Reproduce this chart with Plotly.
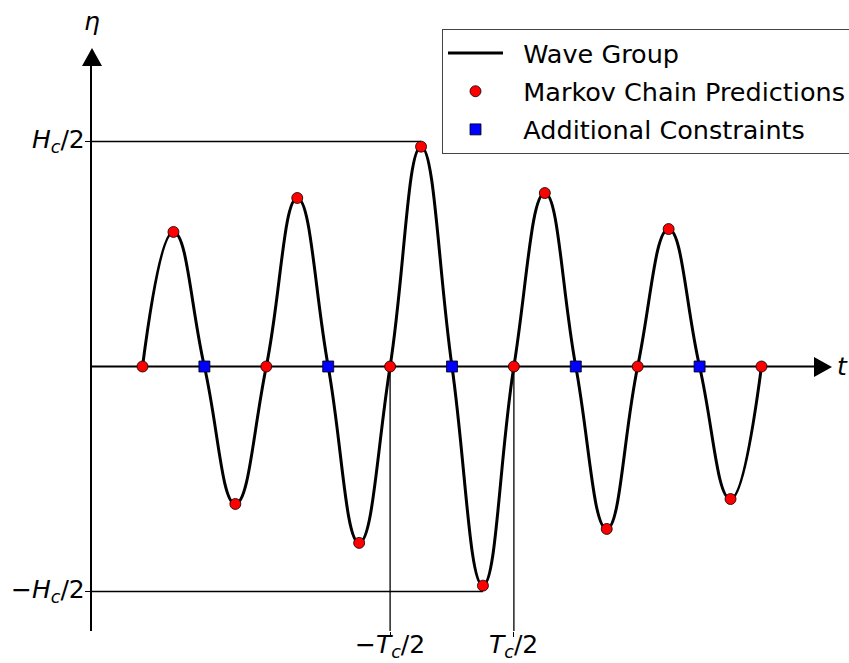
import numpy as np
import plotly.graph_objects as go

# Markov chain predictions: zero up-crossings and crests/troughs (t in units of Tc, eta in units of Hc/2)
t_markov = [-2.5, -2.25, -1.75, -1.5, -1.25, -0.75, -0.5, -0.25, 0.25, 0.5,
            0.75, 1.25, 1.5, 1.75, 2.25, 2.5]
eta_markov = [0.0, 0.598, -0.611, 0.0, 0.749, -0.784, 0.0, 0.977, -0.974, 0.0,
              0.771, -0.722, 0.0, 0.611, -0.589, 0.0]

# Additional constraints: zero down-crossings
t_constraint = [-2.0, -1.0, 0.0, 1.0, 2.0]
eta_constraint = [0.0, 0.0, 0.0, 0.0, 0.0]

# Reference levels and tick labels
half_height = 1.0           # Hc/2
half_period = 0.5           # Tc/2
y_tickvals = [-half_height, half_height]
y_ticktext = ["\u2212<i>H</i><sub><i>c</i></sub>/2", "<i>H</i><sub><i>c</i></sub>/2"]
x_tickvals = [-half_period, half_period]
x_ticktext = ["\u2212<i>T</i><sub><i>c</i></sub>/2", "<i>T</i><sub><i>c</i></sub>/2"]

# Wave group curve passes through every point, in time order
t_all = np.array(t_markov + t_constraint)
eta_all = np.array(eta_markov + eta_constraint)
order = np.argsort(t_all)
t_curve = t_all[order]
eta_curve = eta_all[order]

# Crest / trough used for the Hc/2 guide lines
i_crest = int(np.argmax(eta_markov))
i_trough = int(np.argmin(eta_markov))

W, H = 849, 663
ML, MR, MT, MB = 92, 0, 60, 32
PW, PH = W - ML - MR, H - MT - MB
x_range = [-2.908, 3.207]
y_range = [-1.1756, 1.3622]

FONT = "DejaVu Sans"
PAD = "\u2002\u200a"  # gap between legend symbol and label


def px_x(p):
    return (p - ML) / PW


def px_y(p):
    return (H - MB - p) / PH


fig = go.Figure()

fig.add_trace(go.Scatter(
    x=t_curve, y=eta_curve, mode="lines", name=PAD + "Wave Group", legendgroup="a",
    line=dict(color="black", width=3, shape="spline", smoothing=1.3),
))
fig.add_trace(go.Scatter(
    x=t_markov, y=eta_markov, mode="markers", name=PAD + "Markov Chain Predictions",
    legendgroup="b",
    marker=dict(symbol="circle", size=11, color="#ff0000",
                line=dict(color="black", width=0.8)),
    cliponaxis=False,
))
fig.add_trace(go.Scatter(
    x=t_constraint, y=eta_constraint, mode="markers", name=PAD + "Additional Constraints",
    legendgroup="c",
    marker=dict(symbol="square", size=11, color="#0000ff",
                line=dict(color="black", width=0.8)),
    cliponaxis=False,
))

shapes = []
# horizontal time axis (zero line)
x_axis_end = 2.924
shapes.append(dict(type="line", xref="x", yref="y", x0=x_range[0], x1=x_axis_end,
                   y0=0, y1=0, line=dict(color="black", width=2), layer="below"))
# Hc/2 guide lines
shapes.append(dict(type="line", xref="x", yref="y", x0=x_range[0], x1=t_markov[i_crest],
                   y0=half_height, y1=half_height, line=dict(color="black", width=1.3),
                   layer="below"))
shapes.append(dict(type="line", xref="x", yref="y", x0=x_range[0], x1=t_markov[i_trough],
                   y0=-half_height, y1=-half_height, line=dict(color="black", width=1.3),
                   layer="below"))
# Tc/2 guide lines
for tv in x_tickvals:
    shapes.append(dict(type="line", xref="x", yref="y", x0=tv, x1=tv,
                       y0=0, y1=y_range[0], line=dict(color="black", width=1.3),
                       layer="below"))
# arrow heads
shapes.append(dict(type="path", xref="paper", yref="paper",
                   path=f"M {px_x(82)},{px_y(66)} L {px_x(102)},{px_y(66)} L {px_x(92)},{px_y(48)} Z",
                   fillcolor="black", line=dict(color="black", width=0)))
shapes.append(dict(type="path", xref="paper", yref="paper",
                   path=f"M {px_x(814)},{px_y(357)} L {px_x(814)},{px_y(377)} L {px_x(832)},{px_y(367)} Z",
                   fillcolor="black", line=dict(color="black", width=0)))

label_font = dict(family=FONT, size=25, color="black")
annotations = [
    dict(text="<i>\u03b7</i>", xref="paper", yref="paper", x=px_x(92), y=px_y(22),
         xanchor="center", yanchor="middle", showarrow=False, font=label_font),
    dict(text="<i>t</i>", xref="paper", yref="paper", x=px_x(835), y=px_y(366),
         xanchor="left", yanchor="middle", showarrow=False, font=label_font),
]
# tick labels placed close to their ticks
for tv, tt in zip(x_tickvals, x_ticktext):
    annotations.append(dict(text=tt, xref="x", yref="paper", x=tv, y=px_y(663),
                            xanchor="center", yanchor="bottom", showarrow=False,
                            font=label_font, borderpad=0))
for tv, tt in zip(y_tickvals, y_ticktext):
    annotations.append(dict(text=tt, xref="paper", yref="y", x=px_x(87), y=tv,
                            xanchor="right", yanchor="middle", showarrow=False,
                            font=label_font))

fig.update_layout(
    width=W, height=H,
    margin=dict(l=ML, r=MR, t=MT, b=MB, pad=0, autoexpand=False),
    paper_bgcolor="white", plot_bgcolor="white",
    font=dict(family=FONT, size=25, color="black"),
    shapes=shapes,
    annotations=annotations,
    showlegend=True,
    legend=dict(
        x=px_x(442), y=px_y(29), xanchor="left", yanchor="top",
        bgcolor="white", bordercolor="#444", borderwidth=1,
        font=dict(family=FONT, size=25.5, color="black"),
        itemwidth=55, tracegroupgap=2,
    ),
    xaxis=dict(
        range=x_range, showgrid=False, zeroline=False, showline=False,
        automargin=False, showticklabels=False,
        tickmode="array", tickvals=x_tickvals,
        ticks="outside", ticklen=5, tickwidth=1.3, tickcolor="black",
    ),
    yaxis=dict(
        range=y_range, showgrid=False, zeroline=False, automargin=False,
        showline=True, linecolor="black", linewidth=2, showticklabels=False,
        tickmode="array", tickvals=y_tickvals,
        ticks="outside", ticklen=5, tickwidth=1.3, tickcolor="black",
    ),
)

fig.write_html("out.html")
